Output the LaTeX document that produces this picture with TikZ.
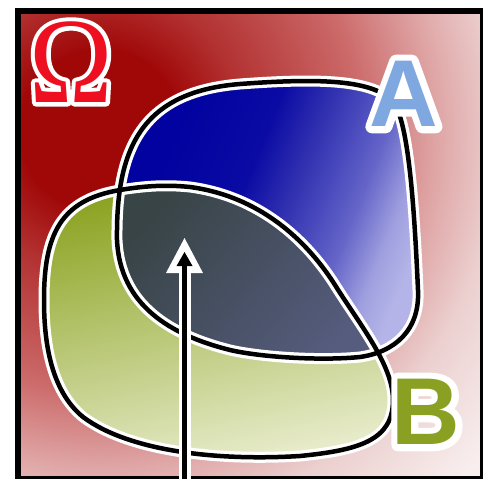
\documentclass[tikz,border=0pt]{standalone}
\usepackage{fontspec}
\newfontfamily\lblfont{Liberation Sans}
\newfontfamily\lblhalofont{Liberation Sans}[BoldFeatures={FakeBold=14}]
\newfontfamily\omfont{Liberation Serif}[FakeStretch=0.92]
\newfontfamily\omhalofont{Liberation Serif}[FakeStretch=0.92, FakeBold=7]
\definecolor{bgA}{HTML}{A00808}
\definecolor{bgB}{HTML}{B23030}
\definecolor{bgC}{HTML}{CC6A6A}
\definecolor{bgD}{HTML}{E0A8A8}
\definecolor{bgE}{HTML}{ECD0D0}
\definecolor{bgF}{HTML}{F8EEEE}
\definecolor{aS1}{HTML}{0202A0}
\definecolor{aS2}{HTML}{0A0AA4}
\definecolor{aS3}{HTML}{3030B0}
\definecolor{aS4}{HTML}{4C4CBE}
\definecolor{aS5}{HTML}{6464C8}
\definecolor{aS6}{HTML}{A0A0E0}
\definecolor{aS7}{HTML}{B4B4E8}
\definecolor{bDark}{HTML}{8CA424}
\definecolor{bMid}{HTML}{A9B94A}
\definecolor{bLight}{HTML}{E8ECCC}
\definecolor{iDark}{HTML}{384446}
\definecolor{iLight}{HTML}{555C7E}
\definecolor{omred}{HTML}{EE1020}
\definecolor{lblblue}{HTML}{80A8E0}
\definecolor{lblgreen}{HTML}{8AA022}
\pgfdeclareradialshading{bgshade}{\pgfpoint{0bp}{0bp}}{color(0bp)=(bgA); color(3.6bp)=(bgA); color(6.25bp)=(bgB); color(11.6bp)=(bgC); color(15.2bp)=(bgD); color(17.9bp)=(bgE); color(22.3bp)=(bgF); color(50bp)=(bgF)}
\pgfdeclarehorizontalshading{ashade}{100bp}{color(0bp)=(aS1); color(30bp)=(aS1); color(44bp)=(aS2); color(52bp)=(aS3); color(58bp)=(aS4); color(63bp)=(aS5); color(70bp)=(aS6); color(75bp)=(aS7); color(100bp)=(aS7)}
\tikzset{
  pathA/.style={insert path={(117,240) .. controls (116,150) and (140,92) .. (240,84)
    .. controls (320,78) and (370,80) .. (392,100)
    .. controls (408,118) and (414,200) .. (418,290)
    .. controls (420,330) and (395,352) .. (360,357)
    .. controls (320,361) and (260,357) .. (230,350)
    .. controls (170,335) and (120,305) .. (117,240) -- cycle}},
  pathB/.style={insert path={(190,187) .. controls (250,195) and (300,230) .. (335,285)
    .. controls (360,325) and (393,365) .. (393,400)
    .. controls (393,440) and (360,450) .. (300,456)
    .. controls (220,461) and (130,452) .. (83,417)
    .. controls (50,390) and (44,340) .. (44,300)
    .. controls (44,235) and (60,200) .. (120,190)
    .. controls (150,185) and (170,185) .. (190,187) -- cycle}},
  halo/.style={line width=11pt},
  core/.style={line width=4.5pt},
  biglbl/.style={inner sep=0pt, font=\lblfont\bfseries\fontsize{95}{95}\selectfont},
  bighalo/.style={inner sep=0pt, line join=round, text=white, font=\lblhalofont\bfseries\fontsize{95}{95}\selectfont},
  omlbl/.style={inner sep=0pt, font=\omfont\fontsize{122}{122}\selectfont},
  omhalo/.style={inner sep=0pt, line join=round, text=white, font=\omhalofont\fontsize{122}{122}\selectfont}
}
\begin{document}
\begin{tikzpicture}[x=1pt,y=-1pt]
\useasboundingbox (0,0) rectangle (483,479);
\clip (0,0) rectangle (483,479);
% background
\begin{scope}
  \clip (18,11) rectangle (490,490);
  \shade[shading=bgshade] (100,130) circle (560);
\end{scope}
\draw[line width=6pt] (18,11) rectangle (483,479);
% set A
\begin{scope}
  \clip[pathA];
  \shade[shading=ashade, shading angle=-22] (115,80) rectangle (420,360);
\end{scope}
% set B
\begin{scope}
  \clip[pathB];
  \shade[top color=bDark, middle color=bMid, bottom color=bLight, shading angle=12] (44,185) rectangle (394,462);
\end{scope}
% intersection
\begin{scope}
  \clip[pathA];
  \clip[pathB];
  \shade[top color=iDark, bottom color=iLight, shading angle=50] (116,185) rectangle (385,358);
\end{scope}
% outlines
\draw[white, halo, pathA];
\draw[white, halo, pathB];
\draw[black, core, pathA];
\draw[black, core, pathB];
% arrow
\coordinate (afoot) at (184.5,490);
\coordinate (atip) at (184.5,238);
\coordinate (ashaft) at (184.5,266);
\coordinate (atipin) at (184.5,252);
\coordinate (ashaftin) at (184.5,262);
\draw[white, line width=12pt] (afoot) -- (ashaft);
\fill[white] (atip) -- ++(-18.5,35) -- ++(37,0) -- cycle;
\draw[black, line width=5.5pt] (afoot) -- (ashaftin);
\fill[black] (atipin) -- ++(-8,14) -- ++(16,0) -- cycle;
% labels
\node[omhalo] (Ohalo) at (71,62) {Ω};
\node[omlbl, text=omred] (Omega) at (71,62) {Ω};
\node[bighalo] (Ahalo) at (404,94) {A};
\node[biglbl, text=lblblue] (Alabel) at (404,94) {A};
\node[bighalo] (Bhalo) at (426,412) {B};
\node[biglbl, text=lblgreen] (Blabel) at (426,412) {B};
\end{tikzpicture}
\end{document}
